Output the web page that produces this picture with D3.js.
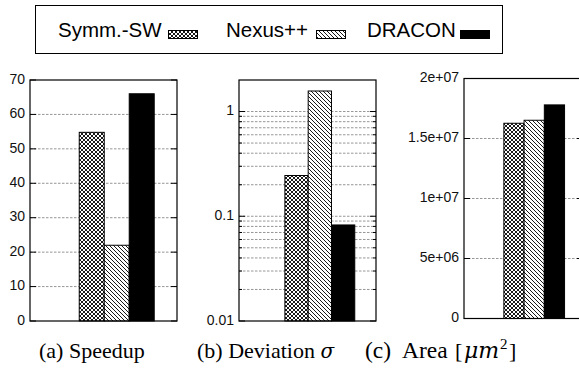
<!DOCTYPE html>
<html>
<head>
<meta charset="utf-8">
<script src="https://cdn.jsdelivr.net/npm/d3@7"></script>
<style>
  body { margin: 0; background: #fff; }
  svg { display: block; }
</style>
</head>
<body>
<svg width="579" height="370"></svg>
<script>
// Data
const series = ["Symm.-SW", "Nexus++", "DRACON"];
const speedup = [54.8, 22, 66];
const deviation = [0.245, 1.57, 0.0826];
const area = [1.627e7, 1.652e7, 1.78e7];

const speedupTicks = [0, 10, 20, 30, 40, 50, 60, 70];
const speedupLabels = ["0", "10", "20", "30", "40", "50", "60", "70"];
const devTicks = [0.01, 0.1, 1];
const devLabels = ["0.01", "0.1", "1"];
const areaTicks = [0, 5e6, 1e7, 1.5e7, 2e7];
const areaLabels = ["0", "5e+06", "1e+07", "1.5e+07", "2e+07"];

const svg = d3.select("svg");
const fills = ["url(#xhatch)", "url(#hatch)", "#000"];

// fill patterns (gnuplot-like)
const defs = svg.append("defs");
const xp = defs.append("pattern").attr("id", "xhatch")
    .attr("patternUnits", "userSpaceOnUse").attr("width", 4).attr("height", 4);
xp.append("rect").attr("width", 4).attr("height", 4).attr("fill", "#fff");
xp.append("path").attr("d", "M0,0L4,4M4,0L0,4M-1,1L1,-1M3,5L5,3M-1,3L1,5M3,-1L5,1")
    .attr("stroke", "#000").attr("stroke-width", 0.9);
const hp = defs.append("pattern").attr("id", "hatch")
    .attr("patternUnits", "userSpaceOnUse").attr("width", 4).attr("height", 4);
hp.append("rect").attr("width", 4).attr("height", 4).attr("fill", "#fff");
hp.append("path").attr("d", "M0,0L4,4M-1,3L1,5M3,-1L5,1")
    .attr("stroke", "#000").attr("stroke-width", 0.9);

function panel(o) {
    const g = svg.append("g");
    const y = o.y;
    const x = d3.scaleBand().domain(series)
        .range([o.x0 + 0.335 * (o.x1 - o.x0), o.x0 + 0.845 * (o.x1 - o.x0)]);

    // grid
    g.selectAll(".grid").data(o.grid).join("line")
        .attr("x1", o.x0).attr("x2", o.x1)
        .attr("y1", d => y(d)).attr("y2", d => y(d))
        .attr("stroke", "#8a8a8a").attr("stroke-width", 0.9)
        .attr("stroke-dasharray", "2.5,1.5");

    // bars
    g.selectAll(".bar").data(o.values).join("rect")
        .attr("x", (d, i) => x(series[i]))
        .attr("width", x.bandwidth())
        .attr("y", d => y(d))
        .attr("height", d => y.range()[0] - y(d))
        .attr("fill", (d, i) => fills[i])
        .attr("stroke", "#000").attr("stroke-width", 1);

    // ticks on both sides
    const ticks = o.ticks.map(d => ({ v: d, len: 6 })).concat((o.minor || []).map(d => ({ v: d, len: 3 })));
    ticks.forEach(t => {
        g.append("line").attr("x1", o.x0).attr("x2", o.x0 + t.len)
            .attr("y1", y(t.v)).attr("y2", y(t.v)).attr("stroke", "#000");
        g.append("line").attr("x1", o.x1 - t.len).attr("x2", o.x1)
            .attr("y1", y(t.v)).attr("y2", y(t.v)).attr("stroke", "#000");
    });

    // tick labels
    g.selectAll(".lab").data(o.ticks).join("text")
        .attr("x", o.x0 - 5).attr("y", d => y(d))
        .attr("text-anchor", "end").attr("dominant-baseline", "middle")
        .attr("font-family", "Liberation Sans, Arial, sans-serif")
        .attr("font-size", 14).attr("fill", "#111")
        .text((d, i) => o.labels[i]);

    // frame
    g.append("rect").attr("x", o.x0).attr("y", y.range()[1])
        .attr("width", o.x1 - o.x0).attr("height", y.range()[0] - y.range()[1])
        .attr("fill", "none").attr("stroke", "#000").attr("stroke-width", 1.2);
}

// (a) Speedup
const ya = d3.scaleLinear().domain([0, 70]).range([321, 80]);
panel({ x0: 30, x1: 177, y: ya, values: speedup, ticks: speedupTicks, labels: speedupLabels,
    grid: speedupTicks.slice(1, -1) });

// (b) Deviation, log scale
const yb = d3.scaleLog().domain([0.01, 2]).range([321, 80]);
const devMinor = [];
[0.01, 0.1].forEach(b => { for (let k = 2; k <= 9; k++) devMinor.push(b * k); });
panel({ x0: 239, x1: 376, y: yb, values: deviation, ticks: devTicks, labels: devLabels,
    minor: devMinor, grid: devMinor.concat([0.1, 1]) });

// (c) Area
const yc = d3.scaleLinear().domain([0, 2e7]).range([318.5, 78.5]);
panel({ x0: 464, x1: 583, y: yc, values: area, ticks: areaTicks, labels: areaLabels,
    grid: areaTicks.slice(1, -1) });

// legend
const leg = svg.append("g");
leg.append("rect").attr("x", 35.5).attr("y", 5.5).attr("width", 467).attr("height", 48)
    .attr("fill", "#fff").attr("stroke", "#000").attr("stroke-width", 1);
const legX = [58, 226, 367];
const swX = [168, 316, 460];
series.forEach((s, i) => {
    leg.append("text").attr("x", legX[i]).attr("y", 37)
        .attr("font-family", "Liberation Sans, Arial, sans-serif").attr("font-size", 20.5)
        .text(s);
    leg.append("rect").attr("x", swX[i] + 0.5).attr("y", 30.5).attr("width", 29).attr("height", 8)
        .attr("fill", fills[i]).attr("stroke", "#000").attr("stroke-width", 1);
});

// captions
const math = "DejaVu Serif, serif";
const cap = svg.append("g").attr("font-family", "Liberation Serif, Times New Roman, serif")
    .attr("font-size", 22).attr("fill", "#000");
cap.append("text").attr("x", 39).attr("y", 358).text("(a) Speedup");
const tb = cap.append("text").attr("x", 197).attr("y", 358);
tb.append("tspan").text("(b) Deviation ");
tb.append("tspan").attr("font-family", math).attr("font-style", "italic").attr("font-size", 20).text("σ");
cap.append("text").attr("x", 365).attr("y", 358).attr("font-size", 23.5).text("(c)");
cap.append("text").attr("x", 402).attr("y", 358).attr("font-size", 23.5).text("Area");
cap.append("text").attr("x", 455).attr("y", 358).text("[");
cap.append("text").attr("x", 464).attr("y", 358)
    .attr("font-family", math).attr("font-style", "italic").attr("font-size", 22).text("μm");
cap.append("text").attr("x", 500).attr("y", 349).attr("font-size", 15).text("2");
cap.append("text").attr("x", 509).attr("y", 358).text("]");
</script>
</body>
</html>
